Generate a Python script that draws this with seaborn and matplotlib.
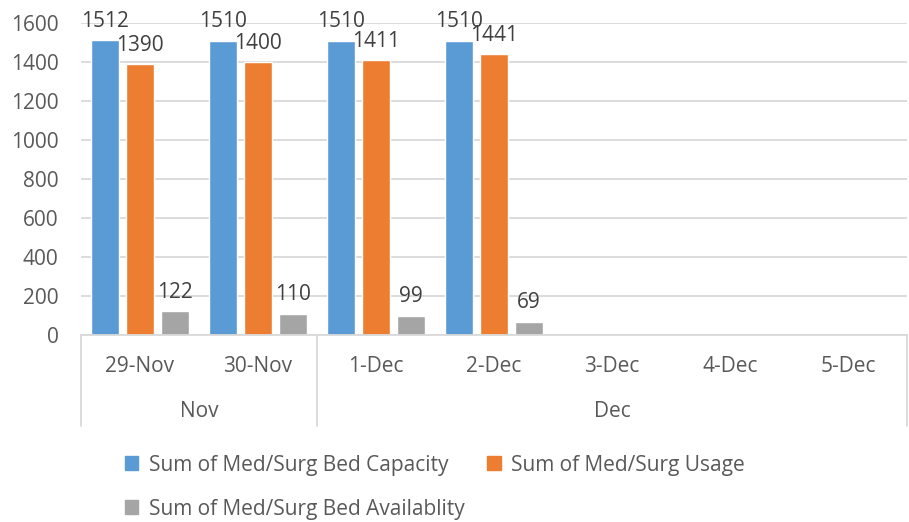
import pandas as pd
import numpy as np
import matplotlib
matplotlib.use("Agg")
import matplotlib.pyplot as plt
import matplotlib.transforms as mtransforms
from matplotlib.lines import Line2D
import seaborn as sns

## 1. Data
dates = ["29-Nov", "30-Nov", "1-Dec", "2-Dec", "3-Dec", "4-Dec", "5-Dec"]
months = ["Nov", "Dec"]
month_spans = [(0, 1), (2, 6)]
capacity = [1512, 1510, 1510, 1510]
usage = [1390, 1400, 1411, 1441]
availability = [122, 110, 99, 69]
series_names = [
    "Sum of Med/Surg Bed Capacity",
    "Sum of Med/Surg Usage",
    "Sum of Med/Surg Bed Availablity",
]
colors = ["#5B9BD5", "#ED7D31", "#A5A5A5"]

## 2. Long format for seaborn
n = len(capacity)
df = pd.DataFrame({
    "date": dates[:n] * 3,
    "series": [series_names[0]] * n + [series_names[1]] * n + [series_names[2]] * n,
    "value": capacity + usage + availability,
})

## 3. Style
sns.set_style("white")
plt.rcParams["font.family"] = ["Open Sans", "DejaVu Sans"]
text_color = "#595959"
grid_color = "#D9D9D9"
fs = 15

fig = plt.figure(figsize=(9.09, 5.22), dpi=100)
ax = fig.add_axes([0.089, 0.358, 0.909, 0.598])

sns.barplot(
    data=df, x="date", y="value", hue="series",
    order=dates, hue_order=series_names, palette=colors,
    width=0.89, gap=0.2, saturation=1, errorbar=None, ax=ax, legend=False,
)

## 4. Axes
ax.set_ylim(0, 1600)
ax.set_xlim(-0.5, len(dates) - 0.5)
ax.set_yticks(np.arange(0, 1601, 200))
ax.yaxis.grid(True, color=grid_color, linewidth=1.3)
ax.set_axisbelow(True)
for s in ["top", "right", "left"]:
    ax.spines[s].set_visible(False)
ax.spines["bottom"].set_color(grid_color)
ax.spines["bottom"].set_linewidth(1.3)
ax.set_xlabel("")
ax.set_ylabel("")
ax.tick_params(axis="y", length=0, pad=16, labelsize=fs, labelcolor=text_color)
ax.tick_params(axis="x", length=0, pad=15, labelsize=fs, labelcolor=text_color)

## 5. Data labels
for cont in ax.containers:
    labels = ["" if np.isnan(v) else f"{v:.0f}" for v in cont.datavalues]
    ax.bar_label(cont, labels=labels, padding=6, fontsize=fs, color="#404040")

## 6. Month level of the category axis
trans = mtransforms.blended_transform_factory(ax.transData, ax.transAxes)
for m, (a, b) in zip(months, month_spans):
    ax.text((a + b) / 2, -0.245, m, transform=trans, ha="center", va="center",
            fontsize=fs, color=text_color)
for xb in [-0.5, 1.5, len(dates) - 0.5]:
    ax.add_line(Line2D([xb, xb], [0, -0.29], transform=trans, color=grid_color,
                       linewidth=1.3, clip_on=False))

## 7. Legend below
handles = [plt.Rectangle((0, 0), 1, 1, color=c) for c in colors]
order = [0, 2, 1]
fig.legend(
    [handles[i] for i in order], [series_names[i] for i in order],
    ncol=2, loc="upper left", bbox_to_anchor=(0.128, 0.145),
    frameon=False, fontsize=fs, labelcolor=text_color,
    handlelength=0.65, handleheight=0.65, handletextpad=0.5,
    columnspacing=1.1, labelspacing=1.1, borderaxespad=0,
)

plt.savefig("out.png", dpi=100)
